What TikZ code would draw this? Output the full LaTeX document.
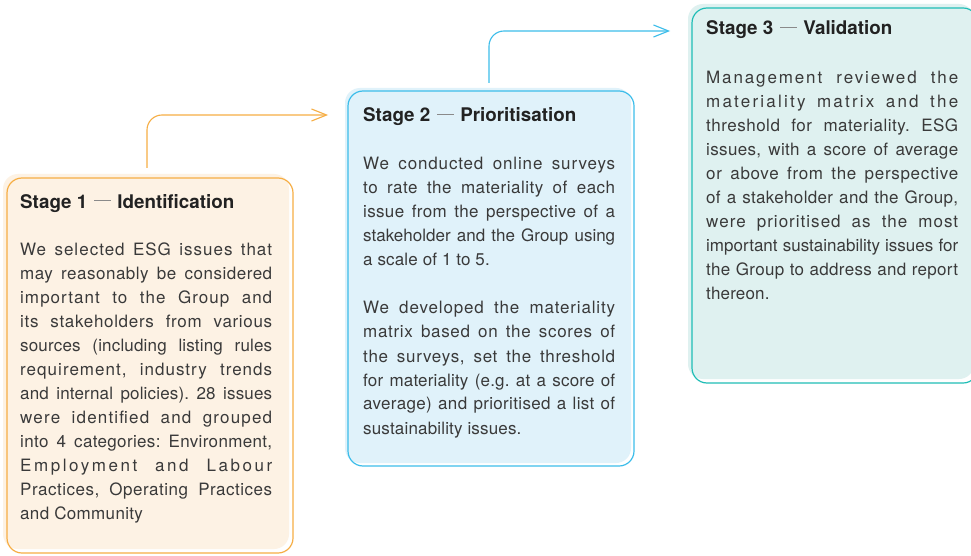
\documentclass[tikz,border=0pt]{standalone}
\usepackage{fontspec}
\setmainfont{TeX Gyre Heros}
\usetikzlibrary{arrows.meta}

\definecolor{orangeline}{HTML}{F6AE45}
\definecolor{orangefill}{HTML}{FDF2E4}
\definecolor{blueline}{HTML}{3CBDEA}
\definecolor{bluefill}{HTML}{E0F2FA}
\definecolor{tealline}{HTML}{20BDB6}
\definecolor{tealfill}{HTML}{DFF1F0}
\definecolor{bodytext}{HTML}{3A3A3A}
\definecolor{titletext}{HTML}{222222}
\definecolor{dashgray}{HTML}{8A8A8A}

\frenchspacing
% one justified line of a panel (optional letter spacing), and the closing line of a paragraph
\newcommand\fullline[2][0]{\hbox to \hsize{\addfontfeatures{LetterSpace=#1}#2}}
\newcommand\lastline[2][0]{\hbox{\addfontfeatures{LetterSpace=#1}#2}}
\newcommand\stagedash{\hspace{7pt}{\color{dashgray}\rule[7pt]{17pt}{1.1pt}}\hspace{6pt}}

\tikzset{
  panelfill/.style={rectangle, rounded corners=15pt, inner sep=0pt, draw=none,
    fill=#1, minimum width=286pt, minimum height=375pt},
  panelframe/.style={rectangle, rounded corners=15pt, inner sep=0pt, draw=#1,
    line width=1.2pt, minimum width=286pt, minimum height=375pt},
  stagetitle/.style={anchor=base west, inner sep=0pt,
    font=\fontsize{18.8}{22}\selectfont\bfseries, text=titletext},
  stagebody/.style={anchor=base west, inner sep=0pt,
    font=\fontsize{17}{24}\selectfont, text=bodytext},
  flow/.style={draw=#1, line width=1.1pt, rounded corners=15pt,
    -{Straight Barb[length=15pt,width=12pt,line width=1.1pt]}}
}

\begin{document}
\begin{tikzpicture}[x=1pt, y=-1pt]
  \useasboundingbox (0,0) rectangle (971,556);
  \fill[white] (0,0) rectangle (971,556);

  % panels: a tinted card with its outline slightly offset
  \node[panelfill=orangefill] (fill1) at (146,361.5) {};
  \node[panelframe=orangeline] (frame1) at (150,365.5) {};
  \node[panelfill=bluefill] (fill2) at (488,275.5) {};
  \node[panelframe=blueline] (frame2) at (491,278.5) {};
  \node[panelfill=tealfill] (fill3) at (831,191.5) {};
  \node[panelframe=tealline] (frame3) at (835,195.5) {};

  % titles
  \node[stagetitle] (title1) at (20,208) {Stage 1\stagedash Identification};
  \node[stagetitle] (title2) at (363,122) {Stage 2\stagedash Prioritisation};
  \node[stagetitle] (title3) at (706,35) {Stage 3\stagedash Validation};

  % body texts
  \node[stagebody] (body1) at (20,255) {\parbox[t]{252pt}{%
    \fullline[6]{We selected ESG issues that}
    \fullline[3]{may reasonably be considered}
    \fullline[6]{important to the Group and}
    \fullline[4]{its stakeholders from various}
    \fullline[1]{sources (including listing rules}
    \fullline[6]{requirement, industry trends}
    \fullline[1]{and internal policies). 28 issues}
    \fullline[7]{were identified and grouped}
    \fullline[2]{into 4 categories: Environment,}
    \fullline[15]{Employment and Labour}
    \fullline[3]{Practices, Operating Practices}
    \lastline[2]{and Community}}};

  \node[stagebody] (body2) at (363,170) {\parbox[t]{252pt}{%
    \fullline[5]{We conducted online surveys}
    \fullline[3]{to rate the materiality of each}
    \fullline[2]{issue from the perspective of a}
    \fullline{stakeholder and the Group using}
    \lastline[1]{a scale of 1 to 5.}
    \vskip 24pt
    \fullline[5]{We developed the materiality}
    \fullline[4]{matrix based on the scores of}
    \fullline[4]{the surveys, set the threshold}
    \fullline[1]{for materiality (e.g. at a score of}
    \fullline[2]{average) and prioritised a list of}
    \lastline[1]{sustainability issues.}}};

  \node[stagebody] (body3) at (706,84) {\parbox[t]{252pt}{%
    \fullline[11]{Management reviewed the}
    \fullline[13]{materiality matrix and the}
    \fullline[3]{threshold for materiality. ESG}
    \fullline[2]{issues, with a score of average}
    \fullline[4]{or above from the perspective}
    \fullline[2]{of a stakeholder and the Group,}
    \fullline[6]{were prioritised as the most}
    \fullline{important sustainability issues for}
    \fullline[2]{the Group to address and report}
    \lastline[1]{thereon.}}};

  % connectors between the stages
  \coordinate (a1start) at (147,168);
  \coordinate (a1end) at (328,115);
  \coordinate (a2start) at (489,83);
  \coordinate (a2end) at (670,31);
  \draw[flow=orangeline] (a1start) |- (a1end);
  \draw[flow=blueline] (a2start) |- (a2end);
\end{tikzpicture}
\end{document}
